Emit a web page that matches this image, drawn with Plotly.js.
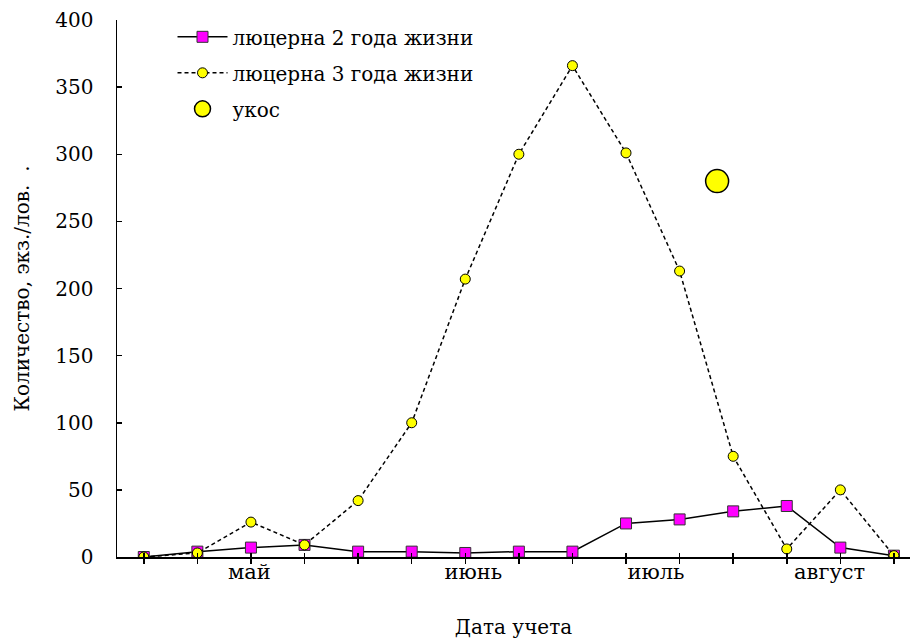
<!DOCTYPE html>
<html>
<head>
<meta charset="utf-8">
<script src="https://cdn.plot.ly/plotly-3.0.1.min.js"></script>
<style>html,body{margin:0;padding:0;background:#fff;}#chart{width:913px;height:640px;}</style>
</head>
<body>
<div id="chart"></div>
<script>
// Points of observation (index along the x axis)
const pointIndex = [0,1,2,3,4,5,6,7,8,9,10,11,12,13,14];
// люцерна 2 года жизни
const alfalfa2 = [0,4,7,9,4,4,3,4,4,25,28,34,38,7,1];
// люцерна 3 года жизни
const alfalfa3 = [0,3,26,9,42,100,207,300,366,301,213,75,6,50,1];
// укос (cutting)
const cutX = [10.7];
const cutY = [280];
// month labels and their position along the x axis
const monthLabels = ['май','июнь','июль','август'];
const monthPos = [1.97, 6.15, 9.56, 12.8];
const yTicks = [0,50,100,150,200,250,300,350,400];

const FONT = 'DejaVu Serif, Liberation Serif, serif';

const traces = [
  {x: pointIndex, y: alfalfa2, name: 'люцерна 2 года жизни', mode: 'lines+markers', legendgroup: 'a',
   line: {color: '#000', width: 1.5},
   marker: {symbol: 'square', size: 11, color: '#ff00ff', line: {color: '#333', width: 1}}},
  {x: pointIndex, y: alfalfa3, name: 'люцерна 3 года жизни', mode: 'lines+markers', legendgroup: 'b',
   line: {color: '#000', width: 1.5, dash: '4px,3px'},
   marker: {symbol: 'circle', size: 10, color: '#ffff00', line: {color: '#000', width: 1}}},
  {x: cutX, y: cutY, name: 'укос', mode: 'markers', legendgroup: 'c',
   marker: {symbol: 'circle', size: 23, color: '#ffff00', line: {color: '#000', width: 1.5}}}
];

const layout = {
  width: 913, height: 640,
  margin: {l: 117, r: 3, t: 20, b: 83},
  paper_bgcolor: '#fff', plot_bgcolor: '#fff',
  font: {family: FONT, color: '#000', size: 18},
  showlegend: true,
  legend: {x: 0.07, y: 1.005, xanchor: 'left', yanchor: 'top', bgcolor: 'rgba(0,0,0,0)',
           font: {family: FONT, size: 20}, tracegroupgap: 7, itemwidth: 50},
  xaxis: {range: [-0.5, 14.3], tickvals: pointIndex, ticktext: pointIndex.map(() => ''),
          ticks: 'outside', ticklen: 5, tickwidth: 1.5, tickcolor: '#000',
          showline: true, linecolor: '#000', linewidth: 1.5, showgrid: false, zeroline: false,
          title: {text: 'Дата учета', font: {family: FONT, size: 20}, standoff: 54}},
  xaxis2: {overlaying: 'x', range: [-0.5, 14.3], tickvals: pointIndex, ticktext: pointIndex.map(() => ''),
           ticks: 'inside', ticklen: 4, tickwidth: 1.5, tickcolor: '#000',
           showline: false, showgrid: false, zeroline: false, anchor: 'y'},
  xaxis3: {overlaying: 'x', range: [-0.5, 14.3], tickvals: monthPos, ticktext: monthLabels,
           ticks: '', showline: false, showgrid: false, zeroline: false, anchor: 'y', side: 'bottom',
           tickfont: {family: FONT, size: 21}},
  yaxis: {range: [0, 400], tickvals: yTicks, ticks: 'inside', ticklen: 5, tickwidth: 1.5, tickcolor: '#000',
          showline: true, linecolor: '#000', linewidth: 1.5, showgrid: false, zeroline: false,
          tickfont: {family: FONT, size: 20}, ticklabelstandoff: 18,
          title: {text: 'Количество, экз./лов.\u00a0\u00a0.', font: {family: FONT, size: 20}, standoff: 20}}
};

// invisible anchor traces so the overlay axes are drawn
traces.push({x: [0], y: [0], xaxis: 'x2', mode: 'markers', marker: {opacity: 0}, showlegend: false, hoverinfo: 'skip'});
traces.push({x: [0], y: [0], xaxis: 'x3', mode: 'markers', marker: {opacity: 0}, showlegend: false, hoverinfo: 'skip'});

Plotly.newPlot('chart', traces, layout, {displayModeBar: false, staticPlot: true});
</script>
</body>
</html>
